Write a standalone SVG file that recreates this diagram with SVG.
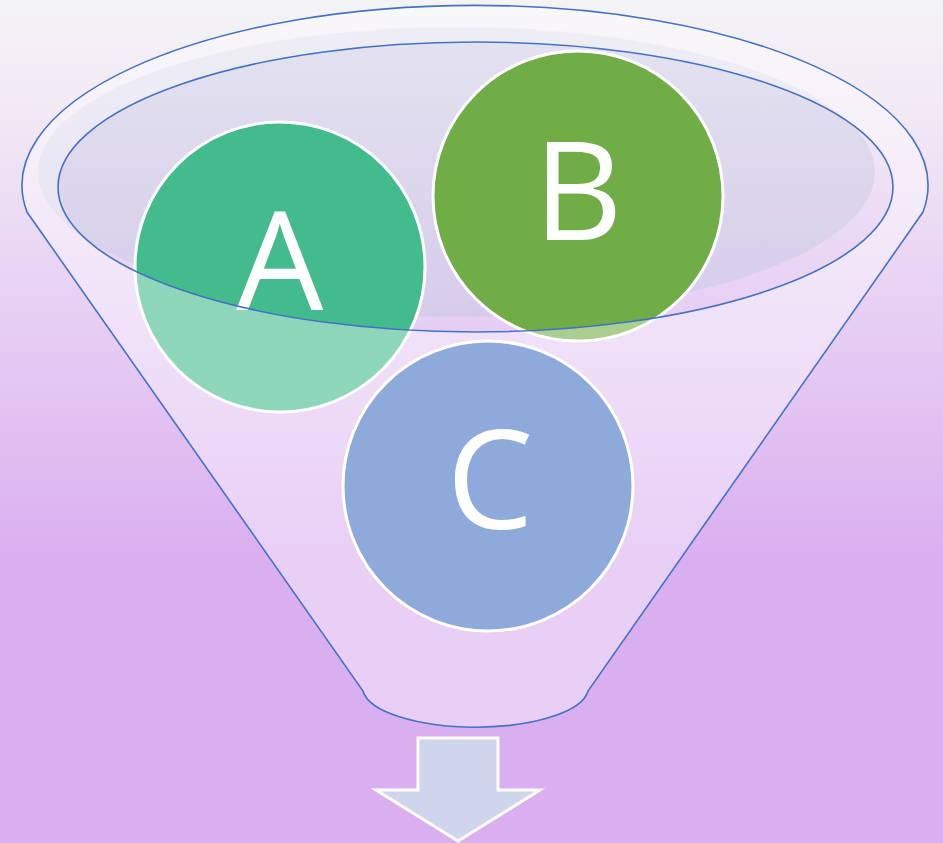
<svg xmlns="http://www.w3.org/2000/svg" width="943" height="843" viewBox="0 0 943 843">
  <defs>
    <linearGradient id="bg" x1="0" y1="0" x2="0" y2="843" gradientUnits="userSpaceOnUse">
      <stop offset="0" stop-color="#f4f3f5"/>
      <stop offset="0.12" stop-color="#f2eaf5"/>
      <stop offset="0.4" stop-color="#e6ccf3"/>
      <stop offset="0.66" stop-color="#daaff0"/>
      <stop offset="1" stop-color="#daaff0"/>
    </linearGradient>
    <linearGradient id="shade" x1="0" y1="27" x2="0" y2="317" gradientUnits="userSpaceOnUse">
      <stop offset="0" stop-color="#e4e3f0"/>
      <stop offset="1" stop-color="#d6ccea"/>
    </linearGradient>
    <style>
      .circ { stroke: #ffffff; stroke-width: 3; }
      .lbl { font-family: "Open Sans", "Liberation Sans", sans-serif; font-size: 138px; fill: #ffffff; text-anchor: middle; }
      .edge { fill: none; stroke: #4472c4; stroke-width: 1.6; }
    </style>
  </defs>

  <rect x="0" y="0" width="943" height="843" fill="url(#bg)"/>

  <g id="funnel-back">
    <ellipse cx="456.5" cy="172" rx="418.5" ry="145" fill="url(#shade)"/>
  </g>

  <g id="circle-a">
    <circle class="circ" cx="280" cy="267" r="145" fill="#44bb8c"/>
    <text class="lbl" x="280" y="310">A</text>
  </g>
  <g id="circle-b">
    <circle class="circ" cx="578" cy="196" r="145" fill="#70ad47"/>
    <text class="lbl" x="578" y="240">B</text>
  </g>
  <g id="circle-c">
    <circle class="circ" cx="488" cy="486" r="145" fill="#4472c4"/>
    <text class="lbl" x="490" y="529">C</text>
  </g>

  <g id="funnel">
    <path fill="#ffffff" fill-opacity="0.4" fill-rule="evenodd"
      d="M27 212 A453 180 0 1 1 923 212 L588 691 A113 40 0 0 1 363 691 Z M58 187 a417.5 145 0 1 0 835 0 a417.5 145 0 1 0 -835 0 Z"/>
    <g id="connectors">
      <path class="edge" d="M27 212 A453 180 0 1 1 923 212 L588 691 A113 40 0 0 1 363 691 Z"/>
      <ellipse class="edge" cx="475.5" cy="187" rx="417.5" ry="145"/>
    </g>
  </g>

  <g id="arrow">
    <polygon points="418,738 498,738 498,790 540,790 458,841 376,790 418,790" fill="#cfd5ea" stroke="#ffffff" stroke-width="3"/>
  </g>
</svg>
